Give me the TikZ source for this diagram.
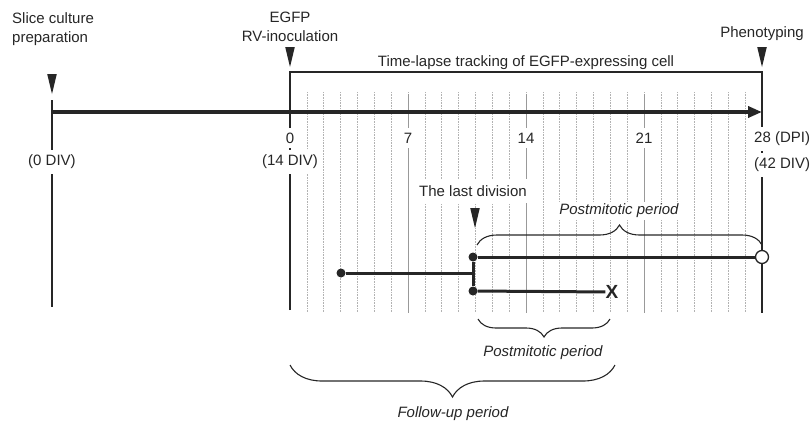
\documentclass[tikz,border=0pt]{standalone}
\usepackage{fontspec}
\setmainfont{Liberation Sans}
\usetikzlibrary{arrows.meta,decorations.pathreplacing}

\tikzset{
  txt/.style={font=\fontsize{15}{18.5}\selectfont, text=black!85, inner sep=1pt},
  lbl/.style={txt, fill=white, inner xsep=2pt, inner ysep=5pt},
  note/.style={font=\fontsize{15}{18.5}\selectfont\itshape, text=black!85, fill=white, inner sep=2pt},
  frame/.style={black!85, line width=1.1pt},
  daygrid/.style={gray!60, densely dotted, line width=0.6pt},
  weekline/.style={gray!80, line width=0.8pt},
  lineage/.style={black!85, line width=3pt},
  dot/.style={circle, fill=black!85, inner sep=0pt, minimum size=9pt},
  curly/.style={decorate, decoration={brace, amplitude=#1}, black!85, line width=1.1pt},
  marker/.pic={\fill[black!85] (-4.8,-20) -- (4.8,-20) -- (0,0) -- cycle;}
}

\begin{document}
\begin{tikzpicture}[x=1pt, y=-1pt]
    \useasboundingbox (0,0) rectangle (811,424);

    % day grid
    \foreach \d in {1,...,27}
      \draw[daygrid] ({290+\d*472/28},92) -- ++(0,220);
    \foreach \d in {7,14,21}
      \draw[weekline] ({290+\d*472/28},94) -- ++(0,219);

    % frame lines
    \coordinate (div0) at (52,100);
    \coordinate (div0b) at (52,307);
    \coordinate (dpi0) at (290,72);
    \coordinate (dpi0b) at (290,310);
    \coordinate (dpi28) at (762,72);
    \coordinate (dpi28b) at (762,313);
    \draw[frame] (div0) -- (div0b);
    \draw[frame] (dpi0b) -- (dpi0) -- (dpi28) -- (dpi28b);

    % time axis
    \coordinate (start) at (52,112);
    \coordinate (end) at (762,112);
    \draw[black!85, line width=4pt, -{Triangle[length=14pt,width=11pt]}] (start) -- (end);

    \pic at (52,94) {marker};
    \pic at (290,67) {marker};
    \pic at (762,67) {marker};
    \pic at (475,228) {marker};

    % texts
    \node[txt, anchor=west, align=left] (slice) at (11,29) {Slice culture\\preparation};
    \node[txt, align=center] (egfp) at (290,27) {EGFP\\RV-inoculation};
    \node[txt] (pheno) at (762,34) {Phenotyping};
    \node[txt] (track) at (526,63) {Time-lapse tracking of EGFP-expressing cell};

    \node[lbl] (t0) at (290,138) {0};
    \node[lbl] (t7) at (408,138) {7};
    \node[lbl] (t14) at (526,138) {14};
    \node[lbl] (t21) at (644,138) {21};
    \node[lbl, anchor=west] (t28) at (752,139) {28 (DPI)};
    \node[lbl] (d0) at (52,162) {(0 DIV)};
    \node[lbl] (d14) at (290,162) {(14 DIV)};
    \node[lbl, anchor=west] (d42) at (752,165) {(42 DIV)};
    \node[lbl, inner ysep=6pt] (last) at (473,191) {The last division};

    % lineage
    \node[dot] (mother) at (341,273) {};
    \node[dot] (d1) at (473,257) {};
    \node[dot] (d2) at (473,291) {};
    \node[circle, draw=black!85, fill=white, line width=1.3pt, inner sep=0pt, minimum size=13pt] (alive) at (762,257) {};
    \node[font=\fontsize{19}{19}\selectfont\bfseries, text=black!85, inner sep=0pt] (dead) at (612,292) {X};
    \coordinate (split) at (473,273);
    \draw[lineage] (mother) -- (split);
    \draw[lineage] (d1) -- (d2);
    \draw[lineage] (d1) -- (alive);
    \draw[lineage] (d2) -- (dead);

    % periods
    \coordinate (b1l) at (477,245);
    \coordinate (b1r) at (762,245);
    \draw[curly=20pt] (b1l) -- (b1r);
    \node[note] (pm1) at (619,211) {Postmitotic period};
    \coordinate (b2l) at (478,319);
    \coordinate (b2r) at (610,319);
    \draw[curly=18pt] (b2r) -- (b2l);
    \node[note] (pm2) at (543,353) {Postmitotic period};
    \coordinate (b3l) at (290,365);
    \coordinate (b3r) at (615,365);
    \draw[curly=32pt] (b3r) -- (b3l);
    \node[note] (fu) at (453,414) {Follow-up period};
\end{tikzpicture}
\end{document}
